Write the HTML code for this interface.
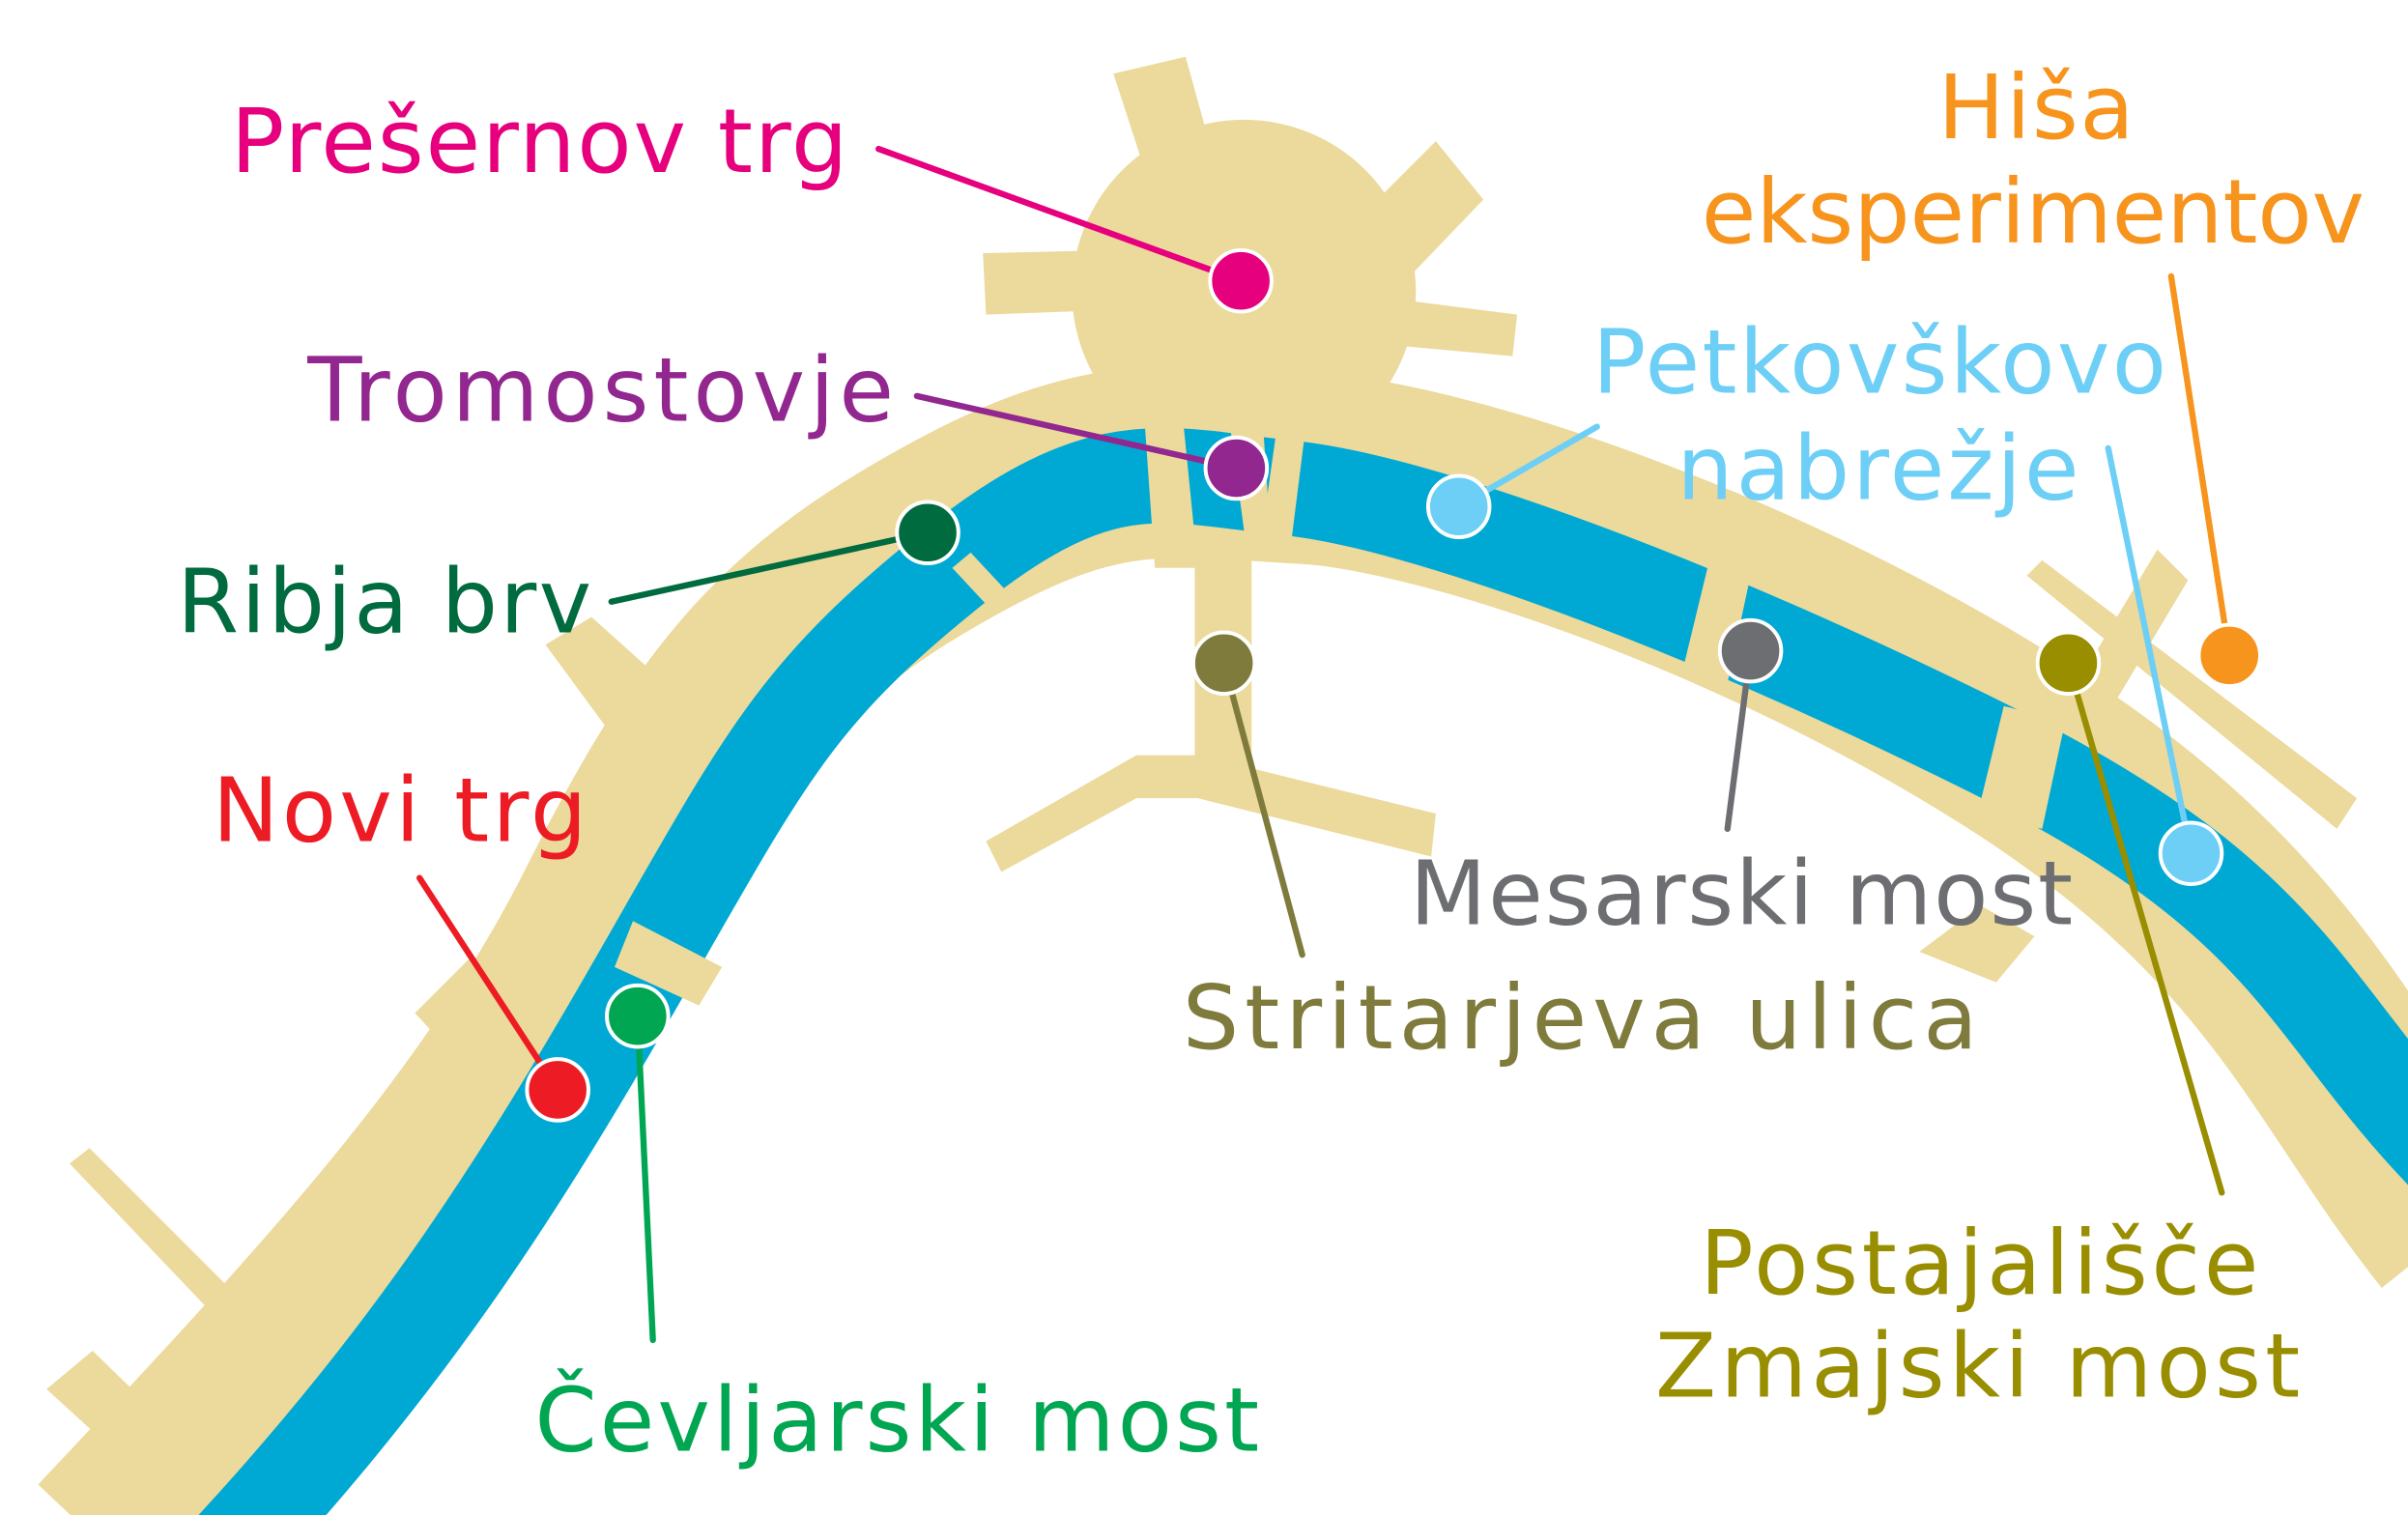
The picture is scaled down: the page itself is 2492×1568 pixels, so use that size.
<!DOCTYPE html>
<html><head><meta charset="utf-8"><style>
html,body{margin:0;padding:0;background:#fff;width:2492px;height:1568px;overflow:hidden}
svg{display:block}
text{font-family:"DejaVu Sans","Liberation Sans",sans-serif;font-size:58px}
</style></head><body>
<svg width="2492" height="1568" viewBox="0 0 1568 987" xmlns="http://www.w3.org/2000/svg">
<g fill="#ecd99c" stroke="none">
<circle cx="810" cy="190" r="112"/>
<polygon points="725,48 772,37 795,120 750,125"/>
<polygon points="895,132 935,92 966,130 920,178"/>
<polygon points="640,165 720,163 722,202 642,205"/>
<polygon points="910,195 988,205 985,232 908,225"/>
<polygon points="778,300 815,300 815,500 778,500"/>
<polygon points="642,548 740,492 780,492 935,530 932,558 780,520 740,520 652,568"/>
<polygon points="355,420 385,402 472,480 430,522"/>
<polygon points="270,660 305,625 360,690 330,725"/>
<polygon points="230,740 245,730 290,770 275,785"/>
<polygon points="45,758 58,748 200,890 185,905"/>
<polygon points="30,905 60,880 170,987 120,987"/>
<polygon points="1320,375 1330,365 1535,520 1522,540"/>
<polygon points="1405,358 1425,378 1370,470 1350,450"/>
<polygon points="1250,620 1290,590 1325,610 1300,640"/>
</g>
<path d="M 70 1010 C 230 840, 330 730, 400 590 S 520 400, 620 345 S 760 300, 850 305 S 1150 380, 1320 490 S 1520 700, 1600 800" fill="none" stroke="#ecd99c" stroke-width="125"/>
<path d="M 150 1010 C 270 880, 340 770, 420 630 S 520 450, 620 370 S 760 310, 840 318 S 1100 390, 1300 490 S 1500 660, 1600 760" fill="none" stroke="#00a9d4" stroke-width="62"/>
<g fill="#ecd99c">
<polygon points="400,630 455,655 470,630 412,600"/>
<polygon points="620,370 648,400 660,390 632,360"/>
<polygon points="745,270 770,270 780,370 752,370"/>
<polygon points="800,270 822,270 828,360 812,360"/>
<polygon points="832,275 850,280 840,360 820,360"/>
<polygon points="1112,370 1140,375 1125,445 1095,440"/>
<polygon points="1305,460 1345,470 1330,540 1288,530"/>
</g>
<g stroke-width="4" fill="none" stroke-linecap="round">
<line x1="572" y1="97" x2="808" y2="183" stroke="#e6007e"/>
<line x1="597" y1="258" x2="805" y2="305" stroke="#92278f"/>
<line x1="398" y1="392" x2="604" y2="347" stroke="#006b3f"/>
<line x1="273" y1="572" x2="363" y2="710" stroke="#ed1c24"/>
<line x1="415" y1="662" x2="425" y2="873" stroke="#00a651"/>
<line x1="797" y1="432" x2="848" y2="622" stroke="#7f7b3c"/>
<line x1="1140" y1="424" x2="1125" y2="540" stroke="#6d6e71"/>
<line x1="1040" y1="278" x2="950" y2="330" stroke="#6dcff6"/>
<line x1="1373" y1="292" x2="1427" y2="556" stroke="#6dcff6"/>
<line x1="1347" y1="432" x2="1447" y2="777" stroke="#998d00"/>
<line x1="1414" y1="180" x2="1452" y2="427" stroke="#f7941d"/>
</g>
<g stroke="#fff" stroke-width="2.5">
<circle cx="808" cy="183" r="20" fill="#e6007e"/>
<circle cx="805" cy="305" r="20" fill="#92278f"/>
<circle cx="604" cy="347" r="20" fill="#006b3f"/>
<circle cx="363" cy="710" r="20" fill="#ed1c24"/>
<circle cx="415" cy="662" r="20" fill="#00a651"/>
<circle cx="797" cy="432" r="20" fill="#7f7b3c"/>
<circle cx="1140" cy="424" r="20" fill="#6d6e71"/>
<circle cx="950" cy="330" r="20" fill="#6dcff6"/>
<circle cx="1427" cy="556" r="20" fill="#6dcff6"/>
<circle cx="1347" cy="432" r="20" fill="#998d00"/>
<circle cx="1452" cy="427" r="20" fill="#f7941d"/>
</g>
<text x="150" y="112" fill="#e6007e" textLength="402">Prešernov trg</text>
<text x="200" y="274" fill="#92278f" textLength="382">Tromostovje</text>
<text x="115" y="412" fill="#006b3f" textLength="270">Ribja brv</text>
<text x="138" y="548" fill="#ed1c24" textLength="244">Novi trg</text>
<text x="348" y="945" fill="#00a651" textLength="472">Čevljarski most</text>
<text x="770" y="683" fill="#7f7b3c" textLength="518">Stritarjeva ulica</text>
<text x="918" y="602" fill="#6d6e71" textLength="432">Mesarski most</text>
<text x="1037" y="256" fill="#6dcff6" textLength="374">Petkovškovo</text>
<text x="1092" y="325" fill="#6dcff6" textLength="262">nabrežje</text>
<text x="1262" y="90" fill="#f7941d" textLength="128">Hiša</text>
<text x="1108" y="158" fill="#f7941d" textLength="432">eksperimentov</text>
<text x="1107" y="843" fill="#998d00" textLength="364">Postajališče</text>
<text x="1078" y="910" fill="#998d00" textLength="420">Zmajski most</text>
</svg>
</body></html>
